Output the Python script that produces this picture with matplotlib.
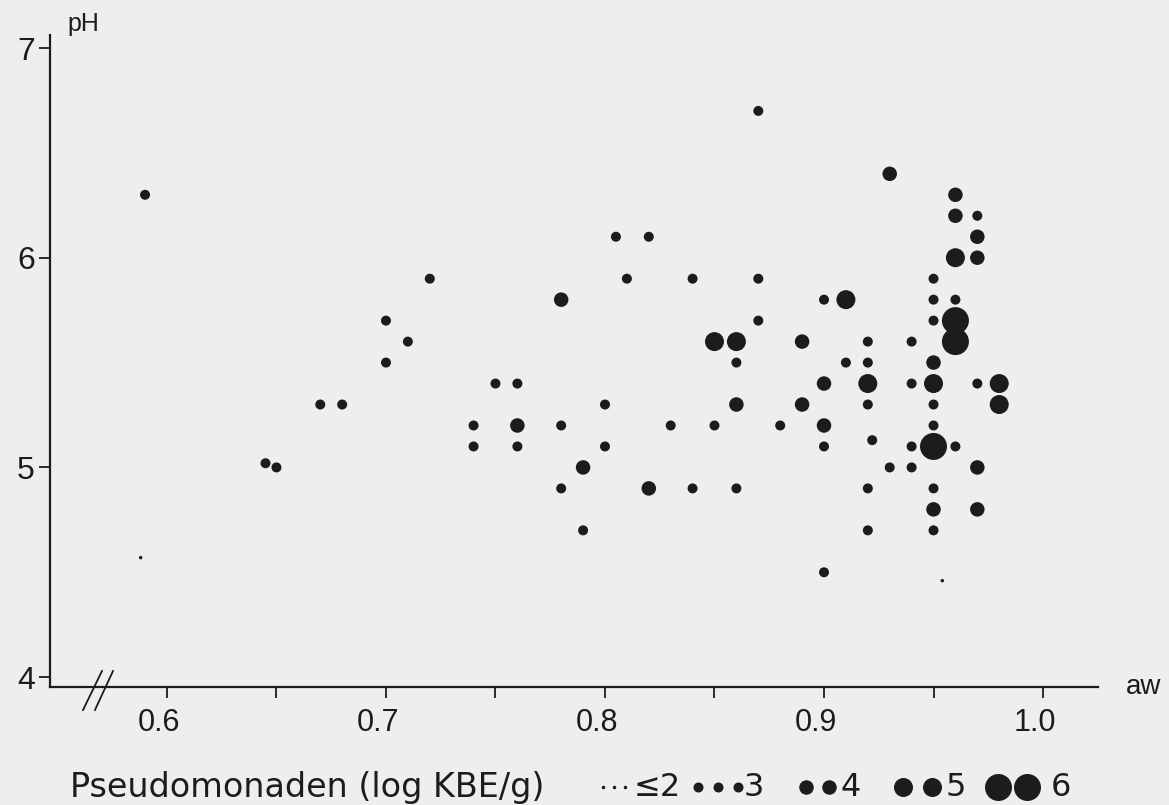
import matplotlib
matplotlib.use("Agg")
import matplotlib.pyplot as plt
import matplotlib.transforms as mtransforms

plt.rcParams['font.family'] = ['Liberation Sans', 'DejaVu Sans']

# ---- data (aw, pH, log KBE/g class) ----
aw = [0.59, 0.645, 0.65, 0.67, 0.68, 0.70, 0.70, 0.71, 0.72, 0.74,
      0.74, 0.75, 0.76, 0.76, 0.76, 0.78, 0.78, 0.78, 0.79, 0.79,
      0.80, 0.80, 0.805, 0.81, 0.82, 0.82, 0.83, 0.84, 0.84, 0.85,
      0.85, 0.86, 0.86, 0.86, 0.86, 0.87, 0.87, 0.87, 0.88, 0.89,
      0.89, 0.90, 0.90, 0.90, 0.90, 0.90, 0.91, 0.91, 0.92, 0.92,
      0.92, 0.92, 0.922, 0.92, 0.92, 0.93, 0.93, 0.94, 0.94, 0.94,
      0.94, 0.95, 0.95, 0.95, 0.95, 0.95, 0.95, 0.95, 0.95, 0.95,
      0.95, 0.95, 0.96, 0.96, 0.96, 0.96, 0.96, 0.96, 0.96, 0.97,
      0.97, 0.97, 0.97, 0.97, 0.97, 0.98, 0.98, 0.954, 0.588]
ph = [6.30, 5.02, 5.00, 5.30, 5.30, 5.70, 5.50, 5.60, 5.90, 5.20,
      5.10, 5.40, 5.40, 5.20, 5.10, 5.80, 5.20, 4.90, 5.00, 4.70,
      5.30, 5.10, 6.10, 5.90, 6.10, 4.90, 5.20, 5.90, 4.90, 5.60,
      5.20, 5.60, 5.50, 5.30, 4.90, 6.70, 5.90, 5.70, 5.20, 5.60,
      5.30, 5.80, 5.40, 5.20, 5.10, 4.50, 5.80, 5.50, 5.60, 5.50,
      5.40, 5.30, 5.13, 4.90, 4.70, 6.40, 5.00, 5.60, 5.40, 5.10,
      5.00, 5.90, 5.80, 5.70, 5.50, 5.40, 5.30, 5.20, 5.10, 4.90,
      4.80, 4.70, 6.30, 6.20, 6.00, 5.80, 5.70, 5.60, 5.10, 6.20,
      6.10, 6.00, 5.40, 5.00, 4.80, 5.40, 5.30, 4.46, 4.57]
klasse = [3, 3, 3, 3, 3, 3, 3, 3, 3, 3,
          3, 3, 3, 4, 3, 4, 3, 3, 4, 3,
          3, 3, 3, 3, 3, 4, 3, 3, 3, 5,
          3, 5, 3, 4, 3, 3, 3, 3, 3, 4,
          4, 3, 4, 4, 3, 3, 5, 3, 3, 3,
          5, 3, 3, 3, 3, 4, 3, 3, 3, 3,
          3, 3, 3, 3, 4, 5, 3, 3, 6, 3,
          4, 3, 4, 4, 5, 3, 6, 6, 3, 3,
          4, 4, 3, 4, 4, 5, 5, 2, 2]

legend_classes = [2, 3, 4, 5, 6]
legend_labels = ['≤2', '3', '4', '5', '6']
x_ticklabels = ['0.6', '0.7', '0.8', '0.9', '1.0']
y_ticklabels = ['4', '5', '6', '7']

# ---- style ----
BG = '#eeeeee'
INK = '#1c1c1c'
diam_px = {2: 3.5, 3: 10.0, 4: 14.5, 5: 19.0, 6: 27.0}   # marker diameter in pixels
def s_of(c):
    d_pt = diam_px[c] * 72 / 100.0
    return d_pt ** 2

W, H = 1169, 805
fig = plt.figure(figsize=(W / 100, H / 100), dpi=100, facecolor=BG)
ax = fig.add_axes([50 / W, (H - 687) / H, (1098 - 50) / W, (687 - 35) / H])
ax.set_facecolor(BG)

ax.scatter(aw, ph, s=[s_of(c) for c in klasse], c=INK, linewidths=0, zorder=3)

ax.set_xlim(0.5466, 1.0251)
ax.set_ylim(3.953, 7.062)

for side in ['top', 'right']:
    ax.spines[side].set_visible(False)
for side in ['left', 'bottom']:
    ax.spines[side].set_color(INK)
    ax.spines[side].set_linewidth(1.6)

ax.set_xticks([0.6, 0.7, 0.8, 0.9, 1.0])
ax.set_xticklabels(x_ticklabels)
ax.set_xticks([0.65, 0.75, 0.85, 0.95], minor=True)
ax.set_yticks([4, 5, 6, 7])
ax.set_yticklabels(y_ticklabels)
ax.tick_params(axis='x', which='both', direction='out', length=8, width=1.3,
               color=INK, labelsize=22, labelcolor=INK, pad=7)
ax.tick_params(axis='y', which='both', direction='out', length=8, width=1.3,
               color=INK, labelsize=23, labelcolor=INK, pad=3)
shift = mtransforms.ScaledTranslation(-8 / 100, 0, fig.dpi_scale_trans)
for lab in ax.get_xticklabels():
    lab.set_transform(lab.get_transform() + shift)

# axis titles
ax.text(0.017, 1.006, 'pH', transform=ax.transAxes, fontsize=18, color=INK,
        ha='left', va='baseline')
ax.text(1.027, 0.0, 'aw', transform=ax.transAxes, fontsize=20, color=INK,
        ha='left', va='center')

# axis break marks
for x0, x1 in [(0.0315, 0.0496), (0.0429, 0.0601)]:
    ax.plot([x0, x1], [-0.0353, 0.0245], transform=ax.transAxes, color=INK,
            lw=1.3, clip_on=False, zorder=4)

# ---- legend (drawn in pixel overlay) ----
ov = fig.add_axes([0, 0, 1, 1], facecolor='none')
ov.set_xlim(0, W)
ov.set_ylim(H, 0)
ov.axis('off')
ly = 787
LEG_FONT = ['DejaVu Sans']
ov.text(70, ly, 'Pseudomonaden (log KBE/g)', fontsize=24, color=INK,
        ha='left', va='center', family=LEG_FONT)
dot_x = {2: [603, 614, 625], 3: [698, 718, 738], 4: [806, 829],
         5: [903, 932], 6: [998, 1027]}
lab_x = {2: 634, 3: 744, 4: 840, 5: 946, 6: 1051}
for c, lab in zip(legend_classes, legend_labels):
    ov.scatter(dot_x[c], [ly] * len(dot_x[c]), s=s_of(c), c=INK, linewidths=0)
    ov.text(lab_x[c], ly, lab, fontsize=23, color=INK, ha='left', va='center',
            family=LEG_FONT)

fig.savefig('out.png', dpi=100, facecolor=BG)
